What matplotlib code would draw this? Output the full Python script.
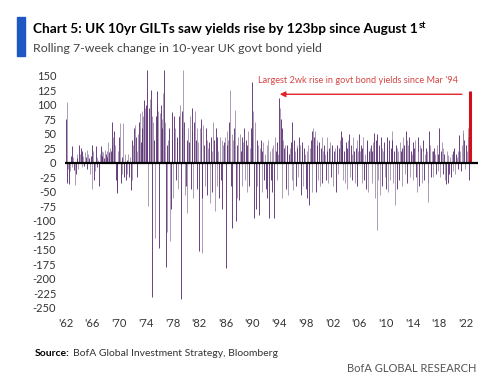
import matplotlib.pyplot as plt

plt.rcParams['font.family'] = ['Lato', 'DejaVu Sans']

# rolling 7-week change in 10y gilt yield, bp (8 readings per year)
years = list(range(1962, 2023))
change_bp = [
    [75, 105, -35, -10, -37, -15, 12, -8],     # 1962
    [28, 10, -12, -38, -20, 15, 8, -10],
    [30, 15, 25, -8, 20, 12, -5, 18],
    [10, 22, -10, 15, 8, -20, 12, -45],
    [30, 20, -30, -15, 28, 10, -8, 5],
    [-40, 15, 28, 20, 12, 18, 8, 22],
    [15, 20, 10, 35, 18, 25, 20, 30],
    [70, 45, 55, 30, -30, -45, -52, 20],
    [45, 68, -35, -20, 10, 68, -25, 15],        # 1970
    [-30, -20, 5, 15, -25, 10, -47, -30],
    [40, 30, 60, 65, 45, 20, -25, 50],
    [70, 85, 35, 90, 60, 80, 108, 95],
    [100, 85, 160, -75, 95, 110, 126, 80],
    [-231, 70, 40, -130, 80, 100, 123, 90],
    [-147, 85, 100, 75, 60, 120, 160, 70],
    [-179, -120, 30, 40, 60, -135, -80, 40],
    [88, -60, 80, 60, -30, 40, 45, -45],
    [80, 100, -235, 60, 90, 160, 70, -55],
    [-40, -87, 40, 60, 35, 80, -45, 55],        # 1980
    [95, -60, 70, 90, 40, 60, -45, 35],
    [-153, 60, 75, -155, -60, 65, 30, -40],
    [60, 40, -55, 25, 35, -70, 45, 20],
    [-50, 70, 40, -84, 60, -40, 45, 20],
    [-60, 45, -30, 40, -80, 30, 35, 45],
    [-181, 55, 30, 40, 70, 126, -40, 50],
    [-113, 40, 60, 91, -100, -60, 30, 45],
    [-65, 50, 20, -40, 45, 35, 60, -30],
    [40, -50, 30, 55, -40, 25, 60, 45],
    [140, 90, -95, 70, -80, -40, 40, 30],       # 1990
    [-90, 25, 40, -50, 20, 35, -30, 15],
    [-45, 30, -60, 40, -95, 20, -30, 25],
    [-50, 30, -95, 45, 20, -30, 35, 15],
    [111, 95, 75, -60, 60, 40, 25, 30],
    [-45, 20, 30, -55, 15, 25, 35, -30],
    [70, -47, 40, 20, -40, 30, 25, -25],
    [45, 30, -55, 20, 35, -40, 25, 15],
    [-45, 20, -60, 30, -73, 25, 40, -50],
    [55, 60, 45, 55, -50, 40, 30, -30],
    [35, -40, 25, 45, -35, 20, 30, 15],         # 2000
    [-30, 45, 20, -35, 25, 35, -25, 15],
    [30, -40, 20, 25, -50, 15, 30, -20],
    [25, 40, 55, 30, 45, -30, 20, -35],
    [35, -45, 25, 40, 50, -25, 30, 15],
    [-30, 45, 20, -35, 25, 40, -40, 20],
    [50, 20, 30, -35, 25, 45, -30, 15],
    [-45, 35, 40, -50, 20, 25, 30, -35],
    [20, 35, 51, -60, 40, -116, 50, -30],
    [30, -55, 45, 25, -40, 20, 35, -25],
    [-45, 30, 45, -50, 40, -30, 25, 55],        # 2010
    [40, -35, 20, -73, 30, 25, -45, 20],
    [-30, 35, 20, -40, 25, 45, 30, -20],
    [55, 40, -35, 30, 45, -25, 20, 15],
    [35, -30, 25, 40, -25, -50, 45, 20],
    [-40, 30, 25, -35, 40, 20, -30, 15],
    [25, 20, -35, -67, 55, 30, -25, 20],
    [20, -25, 25, 15, -20, 30, 15, -15],
    [60, -25, 20, 35, -20, 25, 15, -30],
    [-36, 20, -35, 14, -20, 10, -25, 15],
    [20, -15, 25, -20, 15, 10, -10, 20],        # 2020
    [48, 20, -15, 30, 52, 57, 40, -10],
    [30, 20, 45, 60, -30],                      # 2022
]
latest_date = 2022.6
latest_change_bp = 123

y_ticks = list(range(-250, 151, 25))
x_ticks = list(range(1962, 2023, 4))
x_labels = ["'%02d" % (y % 100) for y in x_ticks]

W, H = 500, 384
fig = plt.figure(figsize=(W / 100, H / 100), dpi=100)
ax = fig.add_axes([0.118, 0.1836, 0.8404, 0.6419])

dark, light = '#55246e', '#a08eac'
xs, vals, cols = [], [], []
for yr, row in zip(years, change_bp):
    for i, v in enumerate(row):
        xs.append(yr + i / 8)
        vals.append(v)
        cols.append(dark if i % 2 == 0 else light)
ax.vlines(xs, 0, vals, colors=cols, lw=0.6)
ax.vlines([latest_date], 0, [latest_change_bp], colors='#d0101a', lw=2.2)
ax.hlines(0, 1961.9, 2023.8, color='black', lw=1.6, zorder=3)

ax.set_xlim(1961, 2024)
ax.set_ylim(-260, 165)
ax.set_yticks(y_ticks)
ax.set_yticklabels([str(t) for t in y_ticks])
ax.set_xticks(x_ticks)
ax.set_xticklabels(x_labels)
ax.tick_params(length=0, labelsize=8, labelcolor='#333333')
ax.tick_params(axis='y', pad=2)
ax.tick_params(axis='x', pad=3)
for s in ax.spines.values():
    s.set_visible(False)

ax.annotate('', xy=(1994.1, 118), xytext=(2021.4, 118),
            arrowprops=dict(arrowstyle='-|>', color='#e0222a', lw=1.0,
                            mutation_scale=8, shrinkA=0, shrinkB=0))
ax.text(2005.8, 141, "Largest 2wk rise in govt bond yields since Mar '94",
        color='#d64545', fontsize=6.6, ha='center', va='center')

# header
fig.patches.append(plt.Rectangle((17 / W, 1 - 56 / H), 8 / W, 39 / H,
                                 transform=fig.transFigure, color='#1f57c3'))
title = fig.text(33 / W, 1 - 29 / H,
                 'Chart 5: UK 10yr GILTs saw yields rise by 123bp since August 1',
                 fontsize=9.8, fontweight='bold', va='center', color='black')
fig.text(33 / W, 1 - 48 / H, 'Rolling 7-week change in 10-year UK govt bond yield',
         fontsize=8.9, va='center', color='#444444')
fig.canvas.draw()
bb = title.get_window_extent()
fig.text((bb.x1 + 1.5) / W, 1 - 25 / H, 'st', fontsize=6.5, fontweight='bold',
         ha='left', va='center', color='black')

# footer
src = fig.text(35 / W, 1 - 353 / H, 'Source:', fontsize=7.5, fontweight='bold',
               va='center', color='black')
fig.canvas.draw()
bb = src.get_window_extent()
fig.text(bb.x1 / W + 0.006, 1 - 353 / H, 'BofA Global Investment Strategy, Bloomberg',
         fontsize=7.5, va='center', color='#333333')
fig.text(476 / W, 1 - 368 / H, 'BofA GLOBAL RESEARCH', fontsize=8, ha='right',
         va='center', color='#555555')

fig.savefig('out.png', dpi=100)
